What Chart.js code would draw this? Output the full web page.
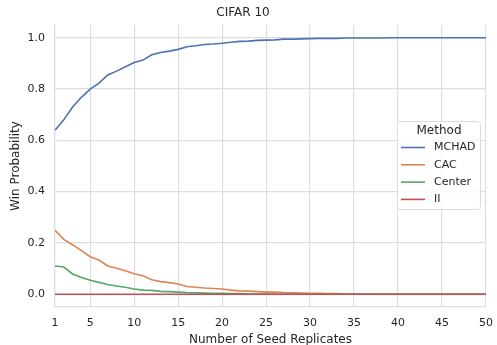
<!DOCTYPE html>
<html>
<head>
<meta charset="utf-8">
<script src="https://cdn.jsdelivr.net/npm/chart.js@4"></script>
<style>
  html, body { margin: 0; padding: 0; background: #fff; }
  #wrap { width: 497px; height: 345px; }
</style>
</head>
<body>
<div id="wrap"><canvas id="chart" width="497" height="345"></canvas></div>
<script>
// ===============================
// Data
// ===============================
const replicates = Array.from({ length: 50 }, (_, i) => i + 1);
const xTicks = [1, 5, 10, 15, 20, 25, 30, 35, 40, 45, 50];
const yTicks = [0, 0.2, 0.4, 0.6, 0.8, 1.0];

const mchad = [0.64, 0.68, 0.73, 0.768, 0.80, 0.823, 0.855, 0.87, 0.887, 0.904,
  0.913, 0.934, 0.943, 0.948, 0.955, 0.965, 0.969, 0.974, 0.976, 0.979,
  0.983, 0.986, 0.987, 0.990, 0.991, 0.992, 0.995, 0.995, 0.996, 0.997,
  0.998, 0.998, 0.998, 0.999, 0.999, 0.999, 0.999, 0.999, 1.0, 1.0,
  1.0, 1.0, 1.0, 1.0, 1.0, 1.0, 1.0, 1.0, 1.0, 1.0];
const cac = [0.249, 0.214, 0.193, 0.170, 0.146, 0.133, 0.110, 0.101, 0.091, 0.080,
  0.072, 0.056, 0.049, 0.045, 0.040, 0.030, 0.027, 0.024, 0.022, 0.020,
  0.016, 0.013, 0.012, 0.010, 0.008, 0.008, 0.006, 0.005, 0.004, 0.003,
  0.003, 0.002, 0.002, 0.001, 0.001, 0.001, 0.001, 0, 0, 0,
  0, 0, 0, 0, 0, 0, 0, 0, 0, 0];
const center = [0.110, 0.106, 0.079, 0.065, 0.054, 0.046, 0.038, 0.032, 0.027, 0.020,
  0.016, 0.015, 0.011, 0.010, 0.008, 0.006, 0.005, 0.004, 0.003, 0.003,
  0.002, 0.002, 0.001, 0.001, 0.001, 0, 0, 0, 0, 0,
  0, 0, 0, 0, 0, 0, 0, 0, 0, 0,
  0, 0, 0, 0, 0, 0, 0, 0, 0, 0];
const ii = replicates.map(() => 0);

const seriesNames = ['MCHAD', 'CAC', 'Center', 'II'];
const seriesValues = [mchad, cac, center, ii];
const seriesColors = ['#4C72B0', '#DD8452', '#55A868', '#C44E52'];

// ===============================
// Legend drawn inside the plot (upper right of centre)
// ===============================
const methodLegend = {
  id: 'methodLegend',
  afterDraw(chart) {
    const ctx = chart.ctx;
    const x = 397.5, y = 121.5, w = 83, h = 88;
    ctx.save();
    ctx.fillStyle = 'rgba(255,255,255,0.8)';
    ctx.strokeStyle = '#dcdcdc';
    ctx.lineWidth = 1;
    ctx.beginPath();
    ctx.roundRect(x, y, w, h, 3);
    ctx.fill();
    ctx.stroke();

    ctx.fillStyle = '#262626';
    ctx.textBaseline = 'middle';
    ctx.textAlign = 'center';
    ctx.font = '12px "DejaVu Sans"';
    ctx.fillText('Method', 439, 131);

    ctx.textAlign = 'left';
    ctx.font = '11px "DejaVu Sans"';
    chart.data.datasets.forEach((ds, i) => {
      const ly = 147.5 + i * 17.3;
      ctx.strokeStyle = ds.borderColor;
      ctx.lineWidth = 1.6;
      ctx.beginPath();
      ctx.moveTo(401, ly);
      ctx.lineTo(425, ly);
      ctx.stroke();
      ctx.fillStyle = '#262626';
      ctx.fillText(ds.label, 434, ly);
    });
    ctx.restore();
  }
};

// ===============================
// Chart
// ===============================
const ctx = document.getElementById('chart').getContext('2d');

new Chart(ctx, {
  type: 'line',
  data: {
    datasets: seriesNames.map((name, i) => ({
      label: name,
      data: replicates.map((r, j) => ({ x: r, y: seriesValues[i][j] })),
      borderColor: seriesColors[i],
      backgroundColor: seriesColors[i],
      borderWidth: 1.6,
      pointRadius: 0,
      tension: 0,
      fill: false,
      order: seriesNames.length - i
    }))
  },
  options: {
    responsive: false,
    animation: false,
    layout: { padding: { left: 0, right: 11, top: 0, bottom: 0 } },
    plugins: {
      legend: { display: false },
      tooltip: { enabled: false },
      title: {
        display: true,
        text: 'CIFAR 10',
        color: '#262626',
        font: { family: '"DejaVu Sans"', size: 12, weight: 'normal' },
        padding: { top: 6, bottom: 4.6 }
      }
    },
    scales: {
      x: {
        type: 'linear',
        min: 1,
        max: 50,
        afterBuildTicks: (scale) => { scale.ticks = xTicks.map(v => ({ value: v })); },
        afterFit: (scale) => {
          scale.height = 38;
          scale.paddingLeft = 0;
          scale.paddingRight = 0;
        },
        grid: { color: '#dedede', lineWidth: 1.2, drawTicks: false },
        border: { color: '#dedede', width: 1.2 },
        ticks: {
          color: '#262626',
          font: { family: '"DejaVu Sans"', size: 11 },
          padding: 10,
          maxRotation: 0
        },
        title: {
          display: true,
          text: 'Number of Seed Replicates',
          color: '#262626',
          font: { family: '"DejaVu Sans"', size: 12 },
          padding: { top: 3, bottom: -2 }
        }
      },
      y: {
        min: -0.05,
        max: 1.05,
        afterBuildTicks: (scale) => { scale.ticks = yTicks.map(v => ({ value: v })); },
        afterFit: (scale) => { scale.width = 55; },
        grid: { color: '#dedede', lineWidth: 1.2, drawTicks: false },
        border: { color: '#dedede', width: 1.2 },
        ticks: {
          color: '#262626',
          font: { family: '"DejaVu Sans"', size: 11 },
          padding: 10,
          callback: (v) => v.toFixed(1)
        },
        title: {
          display: true,
          text: 'Win Probability',
          color: '#262626',
          font: { family: '"DejaVu Sans"', size: 12 },
          padding: { top: 9, bottom: 0 }
        }
      }
    }
  },
  plugins: [methodLegend]
});
</script>
</body>
</html>
